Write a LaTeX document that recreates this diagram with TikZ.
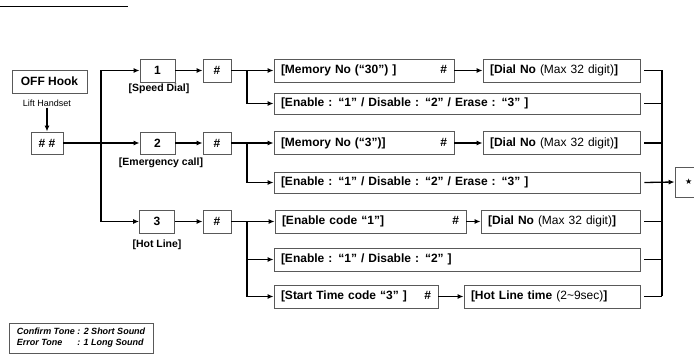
\documentclass[tikz,border=0pt]{standalone}
\usepackage{fontspec}
\setmainfont{Liberation Sans}
\newfontfamily\symfont{DejaVu Sans}
\usetikzlibrary{arrows.meta}

\tikzset{
  box/.style={draw=black!65, line width=0.8pt, inner sep=0pt, minimum height=23pt,
    font=\bfseries\fontsize{12}{14}\selectfont},
  numbox/.style={box, minimum width=35pt},
  hashbox/.style={box, minimum width=28pt},
  wide/.style={box, inner xsep=7pt, align=left, text width=#1},
  lbl/.style={font=\bfseries\fontsize{10.5}{12}\selectfont, inner sep=0pt},
}

\begin{document}
\begin{tikzpicture}[x=1pt, y=-1pt,
  conn/.style={line width=1.3pt, black},
  arr/.style={conn, -{Latex[length=6pt,width=5pt]}}]
\clip (0,0) rectangle (694,358);

% heading rule (cut off at the top)
\draw[line width=0.9pt] (0,6.5) -- (128,6.5);

% start
\node[box, minimum width=75pt] (hook) at (49.5,81.5) {OFF Hook};
\node[font=\fontsize{9}{10}\selectfont, inner sep=1pt] (lift) at (47,103) {Lift Handset};
\node[box, minimum width=32pt, minimum height=22pt] (dial0) at (47,143) {\# \#};

% menu keys
\node[numbox] (n1) at (157.5,70.5) {1};
\node[hashbox] (h1) at (217,70.5) {\#};
\node[lbl] (l1) at (159,89) {[Speed Dial]};
\node[numbox, minimum height=22pt] (n2) at (157.5,143) {2};
\node[hashbox, minimum height=22pt] (h2) at (217,143) {\#};
\node[lbl] (l2) at (161,163) {[Emergency call]};
\node[numbox] (n3) at (157,221.5) {3};
\node[hashbox] (h3) at (217,221.5) {\#};
\node[lbl] (l3) at (157,245) {[Hot Line]};

% speed dial
\node[wide=166pt] (mem1) at (364,70.5) {[Memory No (“30”) ]\hfill\#\hspace*{3pt}};
\node[wide=143pt] (dial1) at (561.5,70.5) {[Dial No {\mdseries (Max 32 digit)}]};
\node[wide=352pt, minimum height=21pt] (en1) at (457,103.5) {[Enable : “1” / Disable : “2” / Erase : “3” ]};

% emergency call
\node[wide=166pt] (mem2) at (364,143) {[Memory No (“3”)]\hfill\#\hspace*{1pt}};
\node[wide=143pt] (dial2) at (561.5,143) {[Dial No {\mdseries (Max 32 digit)}]};
\node[wide=352pt, minimum height=21pt] (en2) at (457,182.5) {[Enable : “1” / Disable : “2” / Erase : “3” ]};

% hot line
\node[wide=177pt] (code3) at (370.5,221.5) {[Enable code “1”]\hfill\#\hspace*{12pt}};
\node[wide=145pt] (dial3) at (560.5,221.5) {[Dial No {\mdseries (Max 32 digit)}]};
\node[wide=352pt] (en3) at (457,259.5) {[Enable : “1” / Disable : “2” ]};
\node[wide=150pt] (start3) at (356,296.5) {[Start Time code “3” ]\hfill\#\hspace*{2pt}};
\node[wide=162pt] (hot3) at (552,296.5) {[Hot Line time {\mdseries (2\textasciitilde 9sec)}]};

% end key (runs off the right edge)
\node[box, minimum width=34pt, minimum height=30pt, inner xsep=10pt, text width=14pt, align=left,
  font=\symfont\fontsize{8}{10}\selectfont] (star) at (692,182) {★};

% tones
\node[draw=black!65, line width=0.8pt, minimum width=144pt, minimum height=30pt, inner sep=0pt,
  font=\bfseries\itshape\fontsize{9}{11}\selectfont] (tone) at (81,338)
  {\begin{tabular}{@{}l@{ }l@{}}Confirm Tone & : 2 Short Sound\\ Error Tone & : 1 Long Sound\end{tabular}};

% connectors
\coordinate (split) at (101,143);
\coordinate (j1) at (247,70.5);
\coordinate (j2) at (247,143);
\coordinate (j3) at (247,221.5);
\coordinate (bar) at (662,0);

\draw[arr] (lift.south) -- (dial0.north);
\draw[arr] (dial0.east) -- (n2.west);
\draw[arr] (split) |- (n1.west);
\draw[arr] (split) |- (n3.west);

\draw[arr] (n1.east) -- (h1.west);
\draw[arr] (n2.east) -- (h2.west);
\draw[arr] (n3.east) -- (h3.west);

\draw[arr] (h1.east) -- (mem1.west);
\draw[arr] (j1) |- (en1.west);
\draw[arr] (mem1.east) -- (dial1.west);

\draw[arr] (h2.east) -- (mem2.west);
\draw[arr] (j2) |- (en2.west);
\draw[arr] (mem2.east) -- (dial2.west);

\draw[arr] (h3.east) -- (code3.west);
\draw[arr] (j3) |- (en3.west);
\draw[arr] (j3) |- (start3.west);
\draw[arr] (code3.east) -- (dial3.west);
\draw[arr] (start3.east) -- (hot3.west);

\draw[conn] (bar |- dial1) -- (bar |- hot3);
\foreach \b in {dial1,en1,dial2,dial3,en3,hot3}
  \draw[conn] ([xshift=4pt]\b.east) -- (bar |- \b);
\draw[arr] ([xshift=4pt]en2.east) -- (star.west);

\end{tikzpicture}
\end{document}
